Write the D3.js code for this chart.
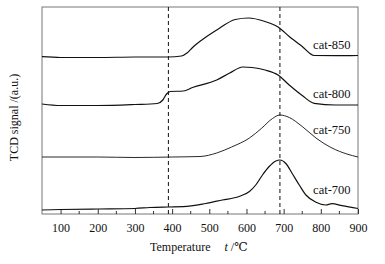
<!DOCTYPE html>
<html>
<head>
<meta charset="utf-8">
<script src="https://cdn.jsdelivr.net/npm/d3@7"></script>
<style>
  body { margin: 0; background: #fff; }
  svg text { font-family: "Liberation Serif", "DejaVu Serif", serif !important; fill: #111; }
</style>
</head>
<body>
<div id="chart"></div>
<script>
const width = 385;
const height = 264;
const margin = { top: 7, right: 27, bottom: 50, left: 42 };

// signal in arbitrary units
const temp850 = [50, 100, 200, 300, 390, 425, 440, 455, 480, 520, 570, 605, 650, 685, 715, 750, 782, 840, 900];
const sig850  = [157.3, 156.5, 156.5, 157, 157, 158, 161, 166.5, 174, 184, 194.5, 196, 192.5, 187, 177.5, 167.5, 158.5, 158.3, 158.5];

const temp800 = [50, 100, 200, 300, 360, 375, 385, 395, 430, 455, 520, 555, 590, 615, 650, 685, 715, 750, 782, 840, 900];
const sig800  = [110, 108.5, 108.5, 109.5, 110.5, 114, 120, 122.5, 123, 126.5, 134, 141, 147, 146.5, 144, 139, 129, 118.5, 110.7, 109, 109];

const temp750 = [50, 200, 300, 400, 475, 520, 560, 608, 640, 670, 690, 715, 750, 787, 830, 870, 900];
const sig750  = [57, 57, 56.5, 57, 57.5, 61, 67, 76, 85.5, 95.5, 99, 96.5, 87.5, 76, 66, 60, 57];

const temp700 = [50, 100, 200, 300, 340, 390, 430, 490, 535, 580, 608, 626, 643, 661, 679, 690, 706, 723, 742, 760, 787, 813, 830, 857, 900];
const sig700  = [4, 4.5, 5, 5.5, 6.5, 7, 7.3, 10.5, 14, 17.5, 22.5, 29.5, 39, 47.5, 53, 54, 50.5, 40.5, 29, 19, 11.7, 9, 10.3, 8.3, 5.5];

const seriesNames = ["cat-850", "cat-800", "cat-750", "cat-700"];
const labelSignal = [165, 116, 80, 20];
const dashedTemps = [390, 690];
const xTicks = [100, 200, 300, 400, 500, 600, 700, 800, 900];

const series = [
  { name: seriesNames[0], t: temp850, v: sig850, w: 1.2 },
  { name: seriesNames[1], t: temp800, v: sig800, w: 1.2 },
  { name: seriesNames[2], t: temp750, v: sig750, w: 0.9 },
  { name: seriesNames[3], t: temp700, v: sig700, w: 1.2 }
];

const svg = d3.select("#chart")
  .append("svg")
  .attr("width", width)
  .attr("height", height);

const x = d3.scaleLinear()
  .domain([50, 900])
  .range([margin.left, width - margin.right]);

const y = d3.scaleLinear()
  .domain([0, 207])
  .range([height - margin.bottom, margin.top]);

// frame
svg.append("rect")
  .attr("x", margin.left)
  .attr("y", margin.top)
  .attr("width", width - margin.left - margin.right)
  .attr("height", height - margin.top - margin.bottom)
  .attr("fill", "none")
  .attr("stroke", "#777")
  .attr("stroke-width", 1);

// bottom axis, ticks pointing in
const xAxis = svg.append("g")
  .attr("transform", `translate(0,${height - margin.bottom})`)
  .call(d3.axisBottom(x).tickValues(xTicks).tickSize(-5).tickPadding(9));
xAxis.select(".domain").remove();
xAxis.selectAll(".tick line").attr("stroke", "#333");
xAxis.selectAll(".tick text")
  .attr("font-size", 12)
  .attr("fill", "#111");

// minor ticks
svg.append("g")
  .selectAll("line")
  .data(xTicks.map(d => d + 50).filter(d => d < 900))
  .join("line")
    .attr("x1", d => x(d))
    .attr("x2", d => x(d))
    .attr("y1", height - margin.bottom)
    .attr("y2", height - margin.bottom - 3)
    .attr("stroke", "#333");

// dashed guides
svg.append("g")
  .selectAll("line")
  .data(dashedTemps)
  .join("line")
    .attr("x1", d => x(d))
    .attr("x2", d => x(d))
    .attr("y1", margin.top)
    .attr("y2", height - margin.bottom)
    .attr("stroke", "#111")
    .attr("stroke-width", 1)
    .attr("stroke-dasharray", "4,3");

const line = d3.line()
  .x(d => x(d[0]))
  .y(d => y(d[1]))
  .curve(d3.curveMonotoneX);

svg.append("g")
  .selectAll("path")
  .data(series)
  .join("path")
    .attr("d", s => line(s.t.map((t, i) => [t, s.v[i]])))
    .attr("fill", "none")
    .attr("stroke", "#111")
    .attr("stroke-width", s => s.w);

// series labels
svg.append("g")
  .selectAll("text")
  .data(series)
  .join("text")
    .attr("x", x(880))
    .attr("y", (s, i) => y(labelSignal[i]))
    .attr("text-anchor", "end")
    .attr("font-size", 12.5)
    .text(s => s.name);

// axis titles
svg.append("text")
  .attr("transform", `translate(18,${(margin.top + height - margin.bottom) / 2 + 7}) rotate(-90)`)
  .attr("text-anchor", "middle")
  .attr("font-size", 12)
  .text("TCD signal /(a.u.)");

const xt = svg.append("text")
  .attr("x", 150)
  .attr("y", 251)
  .attr("font-size", 12);
xt.append("tspan").text("Temperature");
xt.append("tspan").attr("dx", 14).attr("font-style", "italic").text("t");
xt.append("tspan").text(" /℃");
</script>
</body>
</html>
